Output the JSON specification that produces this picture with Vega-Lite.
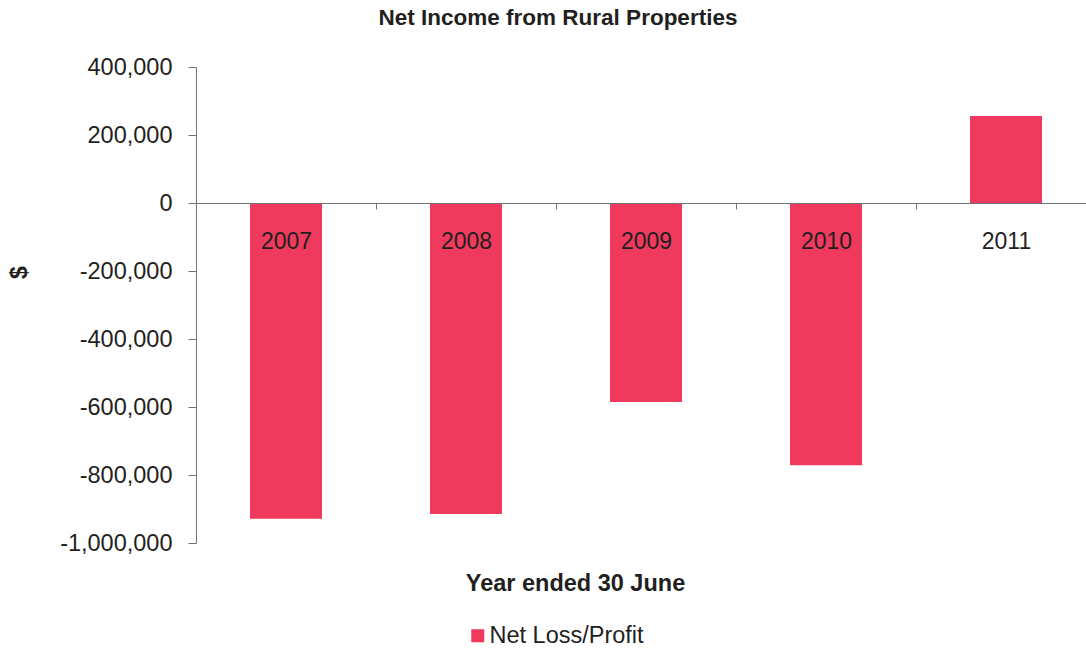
{
  "$schema": "https://vega.github.io/schema/vega-lite/v6.json",
  "width": 890,
  "height": 476,
  "autosize": {"type": "none"},
  "padding": {"left": 196, "top": 67, "right": 0, "bottom": 105},
  "background": "white",
  "config": {
    "view": {"stroke": null},
    "font": "Liberation Sans"
  },
  "title": {
    "text": "Net Income from Rural Properties",
    "fontSize": 22.5,
    "fontWeight": "bold",
    "color": "#231f20",
    "anchor": "middle",
    "dx": -83,
    "baseline": "alphabetic",
    "offset": 8
  },
  "data": {
    "values": [
      {"year": "2007", "value": -929000, "series": "Net Loss/Profit"},
      {"year": "2008", "value": -915000, "series": "Net Loss/Profit"},
      {"year": "2009", "value": -585000, "series": "Net Loss/Profit"},
      {"year": "2010", "value": -771000, "series": "Net Loss/Profit"},
      {"year": "2011", "value": 256000, "series": "Net Loss/Profit"}
    ]
  },
  "mark": {"type": "bar", "width": {"band": 0.4}},
  "encoding": {
    "x": {
      "field": "year",
      "type": "nominal",
      "scale": {"paddingInner": 0, "paddingOuter": 0, "range": [0, 900]},
      "axis": {
        "zindex": 1,
        "title": "Year ended 30 June",
        "titleFontSize": 23.5,
        "titleFontWeight": "bold",
        "titleColor": "#231f20",
        "titleBaseline": "alphabetic",
        "titleAlign": "center",
        "titleX": 379,
        "titleY": 387,
        "labelAngle": 0,
        "labelFontSize": 23,
        "labelColor": "#231f20",
        "labelBaseline": "alphabetic",
        "labelPadding": 39,
        "tickSize": 6,
        "tickBand": "extent",
        "tickColor": "#6d7378",
        "domainColor": "#6d7378",
        "offset": -340,
        "grid": false
      }
    },
    "y": {
      "field": "value",
      "type": "quantitative",
      "scale": {"domain": [-1000000, 400000], "nice": false, "zero": false},
      "axis": {
        "title": "$",
        "titleFontSize": 23,
        "titleFontWeight": "bold",
        "titleColor": "#231f20",
        "titleAngle": -90,
        "titleAlign": "center",
        "titleBaseline": "middle",
        "titleX": -177,
        "titleY": 205,
        "values": [400000, 200000, 0, -200000, -400000, -600000, -800000, -1000000],
        "format": ",d",
        "labelExpr": "replace(datum.label, '−', '-')",
        "labelFontSize": 23.5,
        "labelColor": "#231f20",
        "labelPadding": 16,
        "tickSize": 8,
        "tickColor": "#6d7378",
        "domainColor": "#6d7378",
        "grid": false
      }
    },
    "color": {
      "field": "series",
      "type": "nominal",
      "scale": {"range": ["#ef3a5d"]},
      "legend": {
        "title": null,
        "orient": "none",
        "legendX": 270,
        "legendY": 557,
        "padding": 0,
        "symbolType": "square",
        "symbolSize": 169,
        "symbolStrokeWidth": 0,
        "labelFontSize": 23.5,
        "labelColor": "#231f20",
        "labelOffset": 0
      }
    }
  }
}
